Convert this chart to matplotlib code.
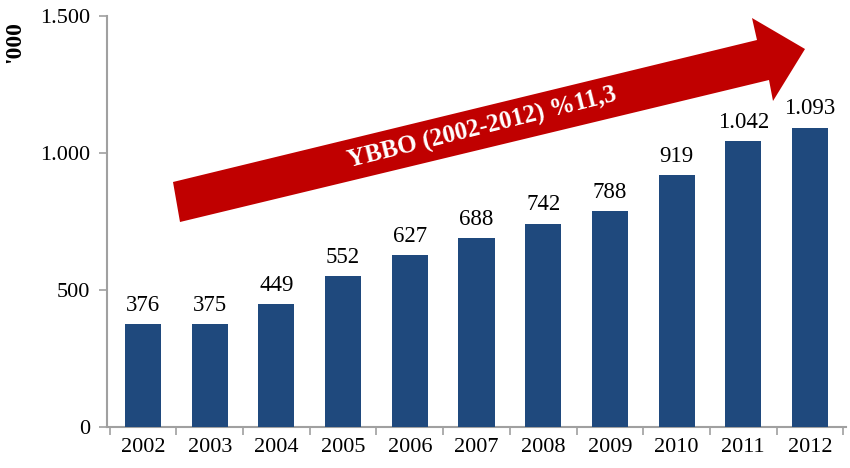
import matplotlib
matplotlib.use("Agg")
import matplotlib.pyplot as plt
from matplotlib.patches import Polygon

years = ["2002", "2003", "2004", "2005", "2006", "2007", "2008", "2009", "2010", "2011", "2012"]
values = [376, 375, 449, 552, 627, 688, 742, 788, 919, 1042, 1093]
yticks = [0, 500, 1000, 1500]
arrow_text = "YBBO (2002-2012) %11,3"

BAR = "#1f497d"; RED = "#c00000"; AX = "#a0a0a0"
plt.rcParams.update({"font.family": ["Liberation Serif", "DejaVu Serif"], "font.size": 16})

W, H = 850, 468
fig = plt.figure(figsize=(8.5, 4.68), dpi=100)
ax = fig.add_axes([107 / W, 1 - 427 / H, (846 - 107) / W, (427 - 16) / H])
x = range(len(years))
ax.bar(x, values, width=0.54, color=BAR, zorder=3)
for xi, v in zip(x, values):
    s = f"{v:,}".replace(",", ".")
    ax.text(xi, v + 30, s, ha="center", va="bottom", fontsize=16.5)
ax.set_xlim(-0.54, len(years) - 0.46)
ax.set_ylim(0, 1500)
ax.set_yticks(yticks)
ax.set_yticklabels([f"{t:,}".replace(",", ".") for t in yticks])
ax.set_xticks(list(x))
ax.set_xticklabels(years)
ax.tick_params(axis="x", length=0, pad=8)
ax.set_xticks([i - 0.5 for i in range(len(years) + 1)], minor=True)
ax.tick_params(axis="x", which="minor", length=6, color=AX, width=1.2)
ax.tick_params(axis="y", length=6, color=AX, width=1.2, pad=6)
for s in ("top", "right"):
    ax.spines[s].set_visible(False)
for s in ("left", "bottom"):
    ax.spines[s].set_color(AX); ax.spines[s].set_linewidth(1.5)

fig.text(15 / W, 1 - 42 / H, "'000", rotation=90, ha="center", va="center",
         fontsize=17, fontweight="bold")

# arrow (pixel coords -> figure fraction)
pts = [(173, 182), (757, 40), (752, 18), (805, 49), (773, 101), (769, 80), (180, 222)]
arrow = Polygon([(px / W, 1 - py / H) for px, py in pts], closed=True,
                transform=fig.transFigure, facecolor=RED, edgecolor="none", zorder=5)
fig.patches.append(arrow)
fig.text(482 / W, 1 - 128 / H, arrow_text, rotation=14, ha="center", va="center",
         color="white", fontsize=18, fontweight="bold", zorder=6)

fig.savefig("out.png", dpi=100)
